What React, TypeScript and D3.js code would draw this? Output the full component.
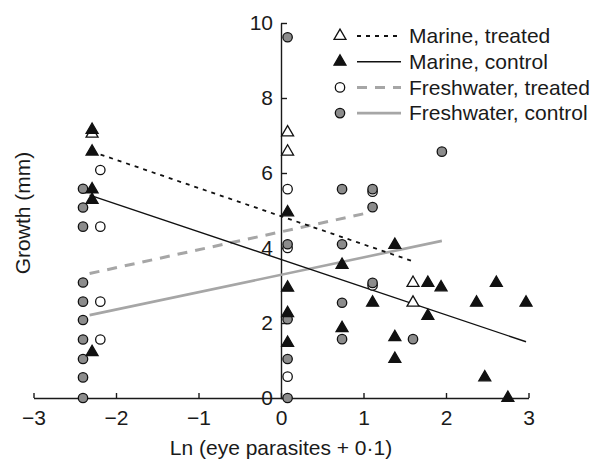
import React, { useRef, useEffect } from "react";
import * as d3 from "d3";

// Points: [ln(eye parasites + 0.1), growth mm]
const freshwaterControl: [number, number][] = [
  [-2.4, 5.58], [-2.4, 5.08], [-2.4, 4.57], [-2.4, 3.08], [-2.4, 2.57],
  [-2.4, 2.08], [-2.4, 1.56], [-2.4, 1.04], [-2.4, 0.55], [-2.4, 0],
  [0.08, 9.62], [0.08, 4.1], [0.08, 2.1], [0.08, 1.04], [0.08, 0],
  [0.74, 5.57], [0.74, 4.1], [0.74, 2.54], [0.74, 1.57],
  [1.11, 5.57], [1.11, 5.09], [1.11, 3.07],
  [1.6, 1.57], [1.95, 6.57],
];
const freshwaterTreated: [number, number][] = [
  [-2.19, 6.08], [-2.19, 4.57], [-2.19, 2.57], [-2.19, 1.56],
  [0.08, 5.57], [0.08, 4.0], [0.08, 0.57],
  [1.11, 5.5], [1.11, 3.0],
];
const marineTreated: [number, number][] = [
  [-2.29, 7.05], [0.08, 7.08], [0.08, 6.57], [1.6, 3.07], [1.6, 2.54],
];
const marineControl: [number, number][] = [
  [-2.29, 7.15], [-2.29, 6.57], [-2.29, 5.56], [-2.29, 5.28], [-2.29, 1.22],
  [0.08, 4.95], [0.08, 2.94], [0.08, 2.26], [0.08, 1.47],
  [0.74, 3.55], [0.74, 1.86], [1.11, 2.54],
  [1.38, 4.08], [1.38, 1.62], [1.38, 1.04],
  [1.78, 3.07], [1.78, 2.19], [1.94, 2.95],
  [2.37, 2.54], [2.47, 0.55], [2.61, 3.07], [2.75, 0], [2.97, 2.54],
];

// Fitted lines (end points)
const marineTreatedFit: [number, number][] = [[-2.29, 6.57], [1.58, 3.66]];
const marineControlFit: [number, number][] = [[-2.32, 5.41], [2.97, 1.5]];
const freshTreatedFit: [number, number][] = [[-2.32, 3.32], [1.08, 4.95]];
const freshControlFit: [number, number][] = [[-2.32, 2.21], [1.95, 4.19]];

const xTicks = [-3, -2, -1, 0, 1, 2, 3];
const yTicks = [0, 2, 4, 6, 8, 10];
const legendLabels = ["Marine, treated", "Marine, control", "Freshwater, treated", "Freshwater, control"];

const FONT = "'Liberation Sans', Arial, Helvetica, sans-serif";
const GRAY_FILL = "#8c8c8c";
const GRAY_LINE = "#a6a6a6";

function App() {
  const svgRef = useRef<SVGSVGElement>(null);

  useEffect(() => {
    const w = 594;
    const h = 459;
    const svg = d3.select(svgRef.current).attr("width", w).attr("height", h);
    svg.selectAll("*").remove();

    const x = d3.scaleLinear().domain([-3, 3]).range([33.5, 528.5]);
    const y = d3.scaleLinear().domain([0, 10]).range([398, 23]);

    // axes
    const xAxis = svg.append("g")
      .attr("transform", `translate(0,${y(0)})`)
      .call(d3.axisBottom(x).tickValues(xTicks).tickSizeInner(-5).tickSizeOuter(0).tickPadding(12).tickFormat(d3.format("d")));
    const yAxis = svg.append("g")
      .attr("transform", `translate(${x(0)},0)`)
      .call(d3.axisLeft(y).tickValues(yTicks).tickSizeInner(-6).tickSizeOuter(0).tickPadding(8));
    [xAxis, yAxis].forEach(g => {
      g.attr("font-family", FONT).attr("font-size", 21);
      g.selectAll("path, line").attr("stroke", "#1a1a1a").attr("stroke-width", 1.4);
      g.selectAll("text").attr("fill", "#1a1a1a");
    });

    svg.append("text")
      .attr("x", x(0)).attr("y", 455)
      .attr("text-anchor", "middle")
      .attr("font-family", FONT).attr("font-size", 21).attr("fill", "#1a1a1a")
      .text("Ln (eye parasites + 0\u00b71)");
    svg.append("text")
      .attr("transform", `translate(23,213) rotate(-90)`)
      .attr("dy", "0.35em")
      .attr("text-anchor", "middle")
      .attr("font-family", FONT).attr("font-size", 21).attr("fill", "#1a1a1a")
      .text("Growth (mm)");

    // fitted lines
    const line = d3.line<[number, number]>().x(d => x(d[0])).y(d => y(d[1]));
    const lineStyles = [
      { data: freshControlFit, stroke: GRAY_LINE, width: 2.6, dash: null },
      { data: freshTreatedFit, stroke: GRAY_LINE, width: 3, dash: "10,8" },
      { data: marineControlFit, stroke: "#111", width: 1.4, dash: null },
      { data: marineTreatedFit, stroke: "#111", width: 1.8, dash: "4,5" },
    ];
    lineStyles.forEach(s => {
      svg.append("path")
        .attr("d", line(s.data))
        .attr("fill", "none")
        .attr("stroke", s.stroke)
        .attr("stroke-width", s.width)
        .attr("stroke-dasharray", s.dash);
    });

    // points
    const tri = d3.symbol().type(d3.symbolTriangle).size(62)();
    const drawCircles = (data: [number, number][], fill: string) => {
      svg.append("g").selectAll("circle").data(data).join("circle")
        .attr("cx", d => x(d[0])).attr("cy", d => y(d[1])).attr("r", 4.7)
        .attr("fill", fill).attr("stroke", "#111").attr("stroke-width", 1.3);
    };
    const drawTriangles = (data: [number, number][], fill: string) => {
      svg.append("g").selectAll("path").data(data).join("path")
        .attr("d", tri)
        .attr("transform", d => `translate(${x(d[0])},${y(d[1])})`)
        .attr("fill", fill).attr("stroke", "#111").attr("stroke-width", 1.3)
        .attr("stroke-linejoin", "miter");
    };
    drawCircles(freshwaterTreated, "#fff");
    drawCircles(freshwaterControl, GRAY_FILL);
    drawTriangles(marineTreated, "#fff");
    drawTriangles(marineControl, "#111");

    // legend
    const legend = svg.append("g");
    const rowY = (i: number) => 36 + i * 25.7;
    legendLabels.forEach((label, i) => {
      const cy = rowY(i);
      const style = lineStyles[3 - i];
      legend.append("line")
        .attr("x1", 357).attr("x2", 401).attr("y1", cy).attr("y2", cy)
        .attr("stroke", style.stroke).attr("stroke-width", style.width)
        .attr("stroke-dasharray", style.dash);
      if (i < 2) {
        legend.append("path").attr("d", tri)
          .attr("transform", `translate(340,${cy})`)
          .attr("fill", i === 0 ? "#fff" : "#111").attr("stroke", "#111").attr("stroke-width", 1.3);
      } else {
        legend.append("circle").attr("cx", 340).attr("cy", cy).attr("r", 4.7)
          .attr("fill", i === 2 ? "#fff" : GRAY_FILL).attr("stroke", "#111").attr("stroke-width", 1.3);
      }
      legend.append("text")
        .attr("x", 409).attr("y", cy).attr("dy", "0.35em")
        .attr("font-family", FONT).attr("font-size", 21).attr("fill", "#1a1a1a")
        .text(label);
    });
  }, []);

  return (
    <svg ref={svgRef} style={{ position: "absolute", left: 0, top: 0, background: "#fff" }}></svg>
  );
}

export default App;
